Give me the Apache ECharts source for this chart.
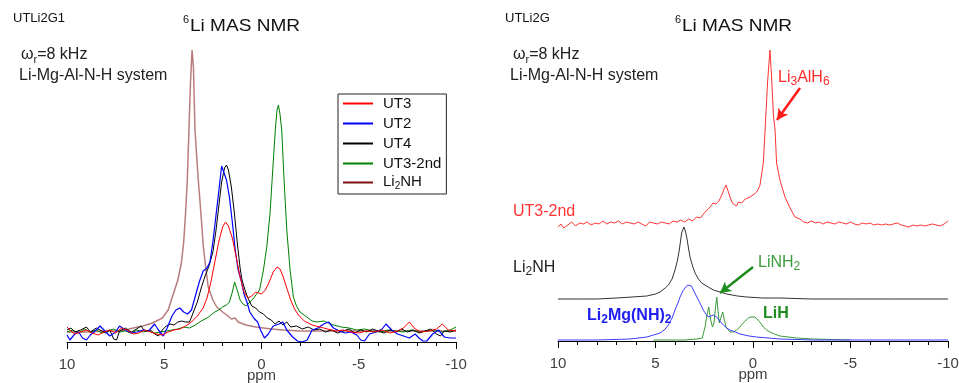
<!DOCTYPE html>
<html>
<head>
<meta charset="utf-8">
<script src="https://cdn.jsdelivr.net/npm/echarts@6/dist/echarts.min.js"></script>
<style>html,body{margin:0;padding:0;background:#fff}#c{width:959px;height:383px}</style>
</head>
<body>
<div id="c"></div>
<script>
// ---- Left panel (UTLi2G1): [ppm, intensity] ----
const UT3 = [[10,15],[9.8,11],[9.6,8],[9.3,10],[9,12],[8.7,9],[8.4,7],[8.1,10],[7.8,12],[7.5,9],[7.2,14],[6.9,12],[6.6,8],[6.3,9],[6.0,12],[5.7,10],[5.4,8],[5.1,7],[4.8,10],[4.5,12],[4.2,13],[3.9,16],[3.6,20],[3.3,26],[3.0,34],[2.8,44],[2.6,60],[2.4,80],[2.2,100],[2.0,115],[1.85,120],[1.7,116],[1.5,104],[1.3,85],[1.1,65],[0.9,50],[0.7,44],[0.5,46],[0.3,50],[0.15,49],[0,48],[-0.2,52],[-0.4,60],[-0.6,70],[-0.8,75],[-0.95,73],[-1.1,66],[-1.3,54],[-1.5,42],[-1.7,33],[-1.9,27],[-2.2,21],[-2.6,17],[-3.0,15],[-3.4,13],[-3.8,11],[-4.2,12],[-4.6,10],[-5.0,9],[-5.4,11],[-5.8,10],[-6.2,12],[-6.6,9],[-7.0,11],[-7.3,14],[-7.6,20],[-7.9,13],[-8.2,10],[-8.6,11],[-9.0,13],[-9.3,18],[-9.6,12],[-10,11]];
const UT2 = [[10,7],[9.85,2],[9.6,8],[9.4,10],[9.2,4],[9.0,2],[8.8,7],[8.5,12],[8.3,16],[8.0,10],[7.8,6],[7.5,10],[7.3,16],[7.0,12],[6.7,9],[6.4,10],[6.1,12],[5.8,11],[5.5,18],[5.3,12],[5.05,6],[4.85,14],[4.6,26],[4.4,32],[4.2,34],[4.0,30],[3.8,28],[3.6,32],[3.4,46],[3.2,60],[3.0,71],[2.8,74],[2.65,80],[2.5,100],[2.35,125],[2.2,150],[2.05,176],[1.95,175],[1.8,162],[1.65,145],[1.5,120],[1.35,92],[1.2,72],[1.05,62],[0.9,48],[0.75,40],[0.6,30],[0.4,24],[0.2,20],[0.05,12],[-0.15,4],[-0.35,8],[-0.6,16],[-0.9,18],[-1.1,20],[-1.3,12],[-1.6,5],[-1.85,1],[-2.1,0],[-2.35,2],[-2.6,12],[-2.9,14],[-3.2,18],[-3.45,20],[-3.7,14],[-4.0,11],[-4.3,9],[-4.6,10],[-4.9,7],[-5.1,2],[-5.3,1],[-5.55,8],[-5.9,10],[-6.2,13],[-6.4,18],[-6.7,12],[-7.0,8],[-7.3,6],[-7.6,4],[-7.9,8],[-8.1,4],[-8.3,1],[-8.5,1],[-8.8,8],[-9.1,12],[-9.4,5],[-9.7,4],[-10,4]];
const UT4 = [[10,12],[9.8,14],[9.6,10],[9.3,12],[9.0,15],[8.8,10],[8.5,14],[8.2,11],[8.0,9],[7.8,12],[7.6,3],[7.45,2],[7.3,11],[7.0,14],[6.7,10],[6.5,12],[6.2,16],[6.0,11],[5.7,12],[5.5,8],[5.3,6],[5.1,12],[4.9,16],[4.7,18],[4.5,17],[4.3,20],[4.1,21],[3.9,20],[3.7,20],[3.5,30],[3.3,40],[3.1,54],[2.9,66],[2.7,76],[2.5,90],[2.35,110],[2.2,135],[2.05,160],[1.9,174],[1.8,177],[1.7,172],[1.55,155],[1.4,130],[1.25,100],[1.1,74],[1.0,62],[0.85,52],[0.7,44],[0.5,36],[0.3,34],[0.1,30],[-0.1,28],[-0.3,24],[-0.5,22],[-0.7,18],[-0.9,21],[-1.1,17],[-1.3,20],[-1.5,15],[-1.8,16],[-2.1,13],[-2.4,15],[-2.7,12],[-3.0,13],[-3.3,10],[-3.6,12],[-3.9,9],[-4.2,11],[-4.5,13],[-4.8,9],[-5.1,12],[-5.4,10],[-5.7,13],[-6.0,11],[-6.3,9],[-6.6,12],[-6.9,10],[-7.2,13],[-7.5,10],[-7.8,12],[-8.1,9],[-8.4,11],[-8.7,13],[-9.0,8],[-9.2,6],[-9.4,11],[-9.7,10],[-10,12]];
const UT3_2ND = [[10,10],[9.7,12],[9.4,9],[9.1,13],[8.8,10],[8.5,12],[8.2,9],[7.9,11],[7.6,13],[7.3,10],[7.0,11],[6.7,9],[6.4,12],[6.1,10],[5.8,11],[5.5,9],[5.2,10],[4.9,11],[4.6,12],[4.3,13],[4.0,15],[3.7,14],[3.4,17],[3.1,21],[2.8,24],[2.6,27],[2.4,30],[2.2,32],[2.0,35],[1.8,37],[1.65,40],[1.5,50],[1.38,60],[1.25,52],[1.1,42],[0.95,38],[0.8,36],[0.6,40],[0.4,44],[0.25,48],[0.1,52],[-0.1,72],[-0.27,95],[-0.44,129],[-0.6,179],[-0.72,215],[-0.8,232],[-0.87,237],[-0.95,228],[-1.04,212],[-1.16,162],[-1.3,112],[-1.47,72],[-1.64,45],[-1.8,36],[-1.98,30],[-2.33,25],[-2.6,21],[-2.84,20],[-3.2,21],[-3.7,17],[-4.1,15],[-4.5,14],[-4.9,12],[-5.3,13],[-5.7,11],[-6.1,10],[-6.5,12],[-6.9,11],[-7.3,10],[-7.7,12],[-8.1,10],[-8.5,11],[-8.9,12],[-9.3,10],[-9.7,12],[-10,15]];
const LI2NH = [[10,10],[9,10],[8,11],[7.5,11],[7,12],[6.6,14],[6.1,16],[5.6,19],[5.1,24],[4.8,32],[4.55,47],[4.3,62],[4.12,79],[4.0,100],[3.9,130],[3.82,160],[3.73,212],[3.65,260],[3.57,292],[3.5,275],[3.42,212],[3.33,185],[3.25,162],[3.1,125],[2.99,95],[2.85,72],[2.74,55],[2.5,42],[2.3,35],[2.0,30],[1.79,27],[1.55,23],[1.36,24],[1.2,20],[0.8,17],[0.3,15],[-0.5,13],[-1.1,12],[-2,11],[-4,11],[-6,11],[-8,11],[-10,11]];

// ---- Right panel (UTLi2G): stacked traces, [ppm, intensity incl. offset] ----
const R_UT3_2ND = [[10,114],[9.85,117],[9.7,113],[9.5,116],[9.3,119],[9.1,115],[8.9,118],[8.7,117],[8.5,119],[8.3,116],[8.1,118],[7.9,117],[7.7,120],[7.5,117],[7.3,119],[7.1,118],[6.9,120],[6.7,117],[6.5,119],[6.3,118],[6.1,117],[5.9,119],[5.7,117],[5.5,115],[5.3,119],[5.1,118],[4.9,117],[4.7,119],[4.5,118],[4.3,117],[4.1,120],[3.9,119],[3.7,121],[3.5,119],[3.3,122],[3.1,120],[2.9,124],[2.7,123],[2.5,128],[2.35,131],[2.2,134],[2.05,138],[1.9,137],[1.75,140],[1.6,146],[1.48,152],[1.38,156],[1.28,150],[1.18,144],[1.08,139],[0.95,136],[0.84,135],[0.75,139],[0.67,141],[0.58,138],[0.5,139],[0.4,142],[0.3,143],[0.15,144],[0,146],[-0.19,149],[-0.35,155],[-0.53,178],[-0.62,211],[-0.75,260],[-0.87,291],[-0.95,265],[-1.05,225],[-1.13,211],[-1.21,178],[-1.38,161],[-1.64,144],[-1.9,133],[-2.15,124],[-2.41,122],[-2.6,119],[-2.8,118],[-3.0,120],[-3.2,118],[-3.4,119],[-3.6,117],[-3.8,119],[-4.0,118],[-4.2,117],[-4.4,119],[-4.6,118],[-4.8,117],[-5.0,119],[-5.2,117],[-5.4,116],[-5.6,118],[-5.8,117],[-6.0,118],[-6.2,116],[-6.4,117],[-6.6,116],[-6.8,117],[-7.0,116],[-7.2,117],[-7.4,118],[-7.6,116],[-7.8,115],[-8.0,114],[-8.2,116],[-8.4,115],[-8.6,116],[-8.8,115],[-9.0,116],[-9.2,117],[-9.4,116],[-9.6,115],[-9.8,117],[-10,120]];
const R_LI2NH = [[10,42],[9,42],[8,42],[7,43],[6.2,44],[5.45,45],[5.0,47],[4.77,49],[4.5,53],[4.34,56],[4.15,62],[4.0,71],[3.88,80],[3.78,91],[3.66,108],[3.54,114],[3.47,110],[3.4,104],[3.3,92],[3.23,84],[3.1,75],[2.97,68],[2.8,62],[2.63,58],[2.3,54],[2.03,51],[1.7,49],[1.35,47],[0.8,45],[0.32,44],[-0.5,43],[-1.38,43],[-3,42],[-5,42],[-7,42],[-10,42]];
const R_LI2MG = [[10,1],[8,1],[6.3,2],[5.45,4],[5.1,6],[4.77,8],[4.55,11],[4.34,16],[4.15,23],[4.0,31],[3.85,38],[3.74,44],[3.6,50],[3.49,53],[3.35,56],[3.27,57],[3.16,55],[3.06,51],[2.93,46],[2.8,41],[2.67,36],[2.55,31],[2.42,27],[2.29,24],[2.15,25],[2.03,26],[1.93,25],[1.86,24],[1.7,20],[1.52,16],[1.35,13],[1.18,11],[0.9,9],[0.67,7],[0.2,5],[-0.19,4],[-1.38,2],[-3.1,1],[-10,1]];
const R_LINH2_LIH = [[5.1,1],[3.5,1],[2.89,2],[2.6,3],[2.52,5],[2.45,15],[2.38,24],[2.27,34],[2.17,21],[2.08,14],[2.0,18],[1.93,32],[1.86,44],[1.79,30],[1.73,18],[1.64,24],[1.55,29],[1.46,20],[1.38,14],[1.18,9],[1.0,9],[0.84,11],[0.67,14],[0.5,18],[0.35,21],[0.24,23],[0.1,24],[0.02,24],[-0.1,24],[-0.19,23],[-0.35,19],[-0.53,14],[-0.7,11],[-0.87,9],[-1.1,7],[-1.38,5],[-1.8,4],[-2.24,3],[-3.1,2],[-4.97,1]];

// annotation arrows (data coords: [ppm, intensity])
const ARROW_LI3ALH6 = [[-2.41,253],[-1.23,221]];
const ARROW_LINH2 = [[0.0,74],[1.69,48]];

const X_TICKS = {min: -10, max: 10, interval: 5};
const LEGEND_NAMES = ['UT3','UT2','UT4','UT3-2nd','Li2NH'];

const FONT = '"Liberation Sans", Arial, Helvetica, sans-serif';
const chart = echarts.init(document.getElementById('c'), null, {renderer: 'canvas'});

function xAxis(gridIndex) {
  return {
    type: 'value', gridIndex, inverse: true, min: X_TICKS.min, max: X_TICKS.max, interval: X_TICKS.interval,
    name: 'ppm', nameLocation: 'middle', nameGap: 26, nameMoveOverlap: false,
    nameTextStyle: {fontFamily: FONT, fontSize: 15, color: '#404040', verticalAlign: 'top'},
    axisLine: {show: true, onZero: false, lineStyle: {color: '#000', width: 1}},
    axisTick: {show: true, length: 7, lineStyle: {color: '#000', width: 1}},
    minorTick: {show: true, splitNumber: 5, length: 4, lineStyle: {color: '#000', width: 1}},
    splitLine: {show: false}, minorSplitLine: {show: false},
    axisLabel: {fontFamily: FONT, fontSize: 15, color: '#404040', margin: 15}
  };
}
function yAxis(gridIndex) {
  return {type: 'value', gridIndex, min: 0, max: 300, show: false, splitLine: {show: false}};
}
function line(name, data, color, width, xi, extra) {
  return Object.assign({
    name, type: 'line', data, xAxisIndex: xi, yAxisIndex: xi, symbol: 'none', showSymbol: false,
    color, lineStyle: {color, width}, animation: false, silent: true
  }, extra || {});
}
function txt(x, y, text, size, color, opts) {
  opts = opts || {};
  const weight = opts.bold ? 'bold' : 'normal';
  return {
    type: 'text', x, y, scaleX: opts.scaleX || 1, silent: true,
    style: {
      text, x: 0, y: 0, fill: color, fontFamily: FONT, fontSize: size, fontWeight: weight,
      textVerticalAlign: 'top', verticalAlign: 'top',
      rich: {
        m: {fontFamily: FONT, fontSize: size, fontWeight: weight, fill: color, lineHeight: 18, verticalAlign: 'top'},
        s: {fontFamily: FONT, fontSize: opts.sub || 11, fontWeight: weight, fill: color, lineHeight: 12, padding: [opts.subPad || 10, 0, 0, 0], verticalAlign: 'bottom'}
      }
    }
  };
}

const graphics = [
  // left panel texts
  txt(13, 12, 'UTLi2G1', 13, '#111'),
  txt(183, 14, '6', 11, '#111'),
  txt(190, 18, 'Li MAS NMR', 17, '#111', {scaleX: 1.12}),
  txt(21, 47, '{m|ω}{s|r}{m|=8 kHz}', 16, '#222', {sub: 11, subPad: 10}),
  txt(19, 68, 'Li-Mg-Al-N-H system', 16, '#222'),
  // right panel texts
  txt(505, 12, 'UTLi2G', 13, '#111'),
  txt(675, 14, '6', 11, '#111'),
  txt(682, 18, 'Li MAS NMR', 17, '#111', {scaleX: 1.12}),
  txt(513, 47, '{m|ω}{s|r}{m|=8 kHz}', 16, '#222', {sub: 11, subPad: 10}),
  txt(510, 68, 'Li-Mg-Al-N-H system', 16, '#222'),
  txt(778, 70, '{m|Li}{s|3}{m|AlH}{s|6}', 16, '#ff2a2a', {sub: 12, subPad: 10}),
  txt(513, 204, 'UT3-2nd', 16, '#ff3333'),
  txt(513, 260, '{m|Li}{s|2}{m|NH}', 16, '#222', {sub: 12, subPad: 10}),
  txt(758, 255, '{m|LiNH}{s|2}', 16, '#3c9c3c', {sub: 12, subPad: 10}),
  txt(587, 308, '{m|Li}{s|2}{m|Mg(NH)}{s|2}', 16, '#2020f0', {bold: true, sub: 12, subPad: 10}),
  txt(763, 306, 'LiH', 16, '#1e8c1e', {bold: true})
];

function arrow(pts, color) {
  return {
    silent: true, animation: false, symbol: ['none', 'arrow'], symbolSize: [9, 11],
    label: {show: false}, lineStyle: {color, width: 2.5, type: 'solid'},
    data: [[{coord: pts[0]}, {coord: pts[1]}]]
  };
}

const option = {
  animation: false,
  backgroundColor: '#fff',
  grid: [
    {left: 67, width: 389, top: 42, height: 300, containLabel: false, outerBoundsMode: 'none'},
    {left: 558, width: 390, top: 41, height: 300, containLabel: false, outerBoundsMode: 'none'}
  ],
  xAxis: [xAxis(0), xAxis(1)],
  yAxis: [yAxis(0), yAxis(1)],
  legend: {
    data: LEGEND_NAMES, orient: 'vertical', left: 338, top: 94,
    icon: 'rect', itemWidth: 30, itemHeight: 2, itemGap: 1,
    padding: [0, 5, 3, 5], borderColor: '#222', borderWidth: 1, backgroundColor: '#fff',
    selectedMode: false,
    formatter: n => n === 'Li2NH' ? '{m|Li}{s|2}{m|NH}' : n,
    textStyle: {
      fontFamily: FONT, fontSize: 15, color: '#111', lineHeight: 19, padding: [0, 0, 0, 5],
      rich: {
        m: {fontFamily: FONT, fontSize: 15, color: '#111', lineHeight: 17, verticalAlign: 'top'},
        s: {fontFamily: FONT, fontSize: 10, color: '#111', lineHeight: 12, padding: [7, 0, 0, 0], verticalAlign: 'bottom'}
      }
    }
  },
  graphic: graphics,
  series: [
    line('Li2NH', LI2NH, '#7d1010', 1.5, 0, {lineStyle: {color: '#7d1010', width: 1.5, opacity: 0.55}, z: 1}),
    line('UT3-2nd', UT3_2ND, '#008000', 1, 0, {z: 2}),
    line('UT4', UT4, '#000000', 1, 0, {z: 3}),
    line('UT2', UT2, '#0000ff', 1.2, 0, {z: 4}),
    line('UT3', UT3, '#ff0000', 1, 0, {z: 5}),
    line('r-LiNH2-LiH', R_LINH2_LIH, '#3a9a3a', 1, 1, {z: 2, markLine: arrow(ARROW_LINH2, '#1e8c1e')}),
    line('r-Li2MgNH2', R_LI2MG, '#3d3dff', 1, 1, {z: 3}),
    line('r-Li2NH', R_LI2NH, '#333333', 1, 1, {z: 3}),
    line('r-UT3-2nd', R_UT3_2ND, '#ff3333', 1, 1, {z: 3, markLine: arrow(ARROW_LI3ALH6, '#ff1a1a')})
  ]
};
chart.setOption(option);
</script>
</body>
</html>
